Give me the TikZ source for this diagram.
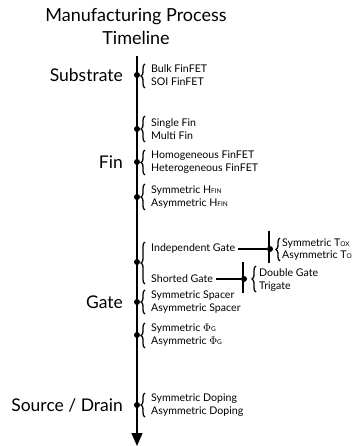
\documentclass[tikz,border=0pt]{standalone}
\usepackage{fontspec}
\setmainfont{Lato}
\usetikzlibrary{arrows.meta,positioning,decorations.pathreplacing}
\newcommand\lowcap[1]{{\fontsize{6.5}{6.5}\selectfont #1}}

\begin{document}
\begin{tikzpicture}[x=1pt,y=-1pt,
      axis/.style={line width=1.4pt},
      dot/.style={circle,fill,inner sep=0pt,minimum size=6pt},
      item/.style={anchor=west,inner sep=0pt,align=left,font=\fontsize{10.6}{13.5}\selectfont},
      stage/.style={anchor=east,inner sep=0pt,font=\fontsize{17.5}{20}\selectfont},
      br/.style={decorate,decoration={brace,amplitude=4pt},line width=1.3pt},
      link/.style={line width=1.1pt,shorten <=3pt}]
    \useasboundingbox (0,0) rectangle (352,446);
    \node[align=center,font=\fontsize{18}{23}\selectfont] (title) at (136,27) {Manufacturing Process\\Timeline};
    \coordinate (top) at (137,56);
    \coordinate (end) at (137,446);
    \draw[axis,-{Triangle[length=13pt,width=11pt]}] (top) -- (end);
    % stages
    \node[stage] (sub) at (123,75) {Substrate};
    \node[stage] (fin) at (123,162) {Fin};
    \node[stage] (gate) at (123,302) {Gate};
    \node[stage] (sd) at (123,405) {Source / Drain};
    % dots on the axis
    \node[dot] (d1) at (137,75) {};
    \node[dot] (d2) at (137,129) {};
    \node[dot] (d3) at (137,162) {};
    \node[dot] (d4) at (137,197) {};
    \node[dot] (d5) at (137,262) {};
    \node[dot] (d6) at (137,302) {};
    \node[dot] (d7) at (137,335) {};
    \node[dot] (d8) at (137,405) {};
    % options
    \node[item] (bulk) at (151,75) {Bulk FinFET\\SOI FinFET};
    \node[item] (nfin) at (151,129) {Single Fin\\Multi Fin};
    \node[item] (homo) at (151,162) {Homogeneous FinFET\\Heterogeneous FinFET};
    \node[item] (hfin) at (151,197) {Symmetric H\lowcap{FIN}\\Asymmetric H\lowcap{FIN}};
    \node[item] (indep) at (151,249) {Independent Gate};
    \node[item] (short) at (151,279) {Shorted Gate};
    \node[item] (spacer) at (151,302) {Symmetric Spacer\\Asymmetric Spacer};
    \node[item] (phi) at (151,335) {Symmetric $\Phi$\lowcap{G}\\Asymmetric $\Phi$\lowcap{G}};
    \node[item] (dop) at (151,405) {Symmetric Doping\\Asymmetric Doping};
    \draw[br] (145,88) -- (145,64);
    \draw[br] (145,142) -- (145,116);
    \draw[br] (145,175) -- (145,150);
    \draw[br] (145,210) -- (145,184);
    \draw[br] (145,284) -- (145,242);
    \draw[br] (145,314) -- (145,290);
    \draw[br] (145,348) -- (145,323);
    \draw[br] (145,417) -- (145,393);
    % independent gate
    \coordinate (ta) at (269,231);
    \coordinate (tb) at (269,263);
    \draw[line width=1.1pt] (ta) -- (tb);
    \node[dot] (dt) at (270,249) {};
    \draw[link] (indep) -- (dt);
    \node[item,font=\fontsize{10.6}{11.5}\selectfont] (tox) at (282,249.5) {Symmetric T\lowcap{OX}\\Asymmetric T\lowcap{OX}};
    \draw[br] (280,261) -- (280,238);
    % shorted gate
    \coordinate (sa) at (243,262);
    \coordinate (sb) at (243,293);
    \draw[line width=1.1pt] (sa) -- (sb);
    \node[dot] (ds) at (244,279) {};
    \draw[link] (short) -- (ds);
    \node[item] (dg) at (259,280) {Double Gate\\Trigate};
    \draw[br] (256,292) -- (256,266);
  \end{tikzpicture}
\end{document}
